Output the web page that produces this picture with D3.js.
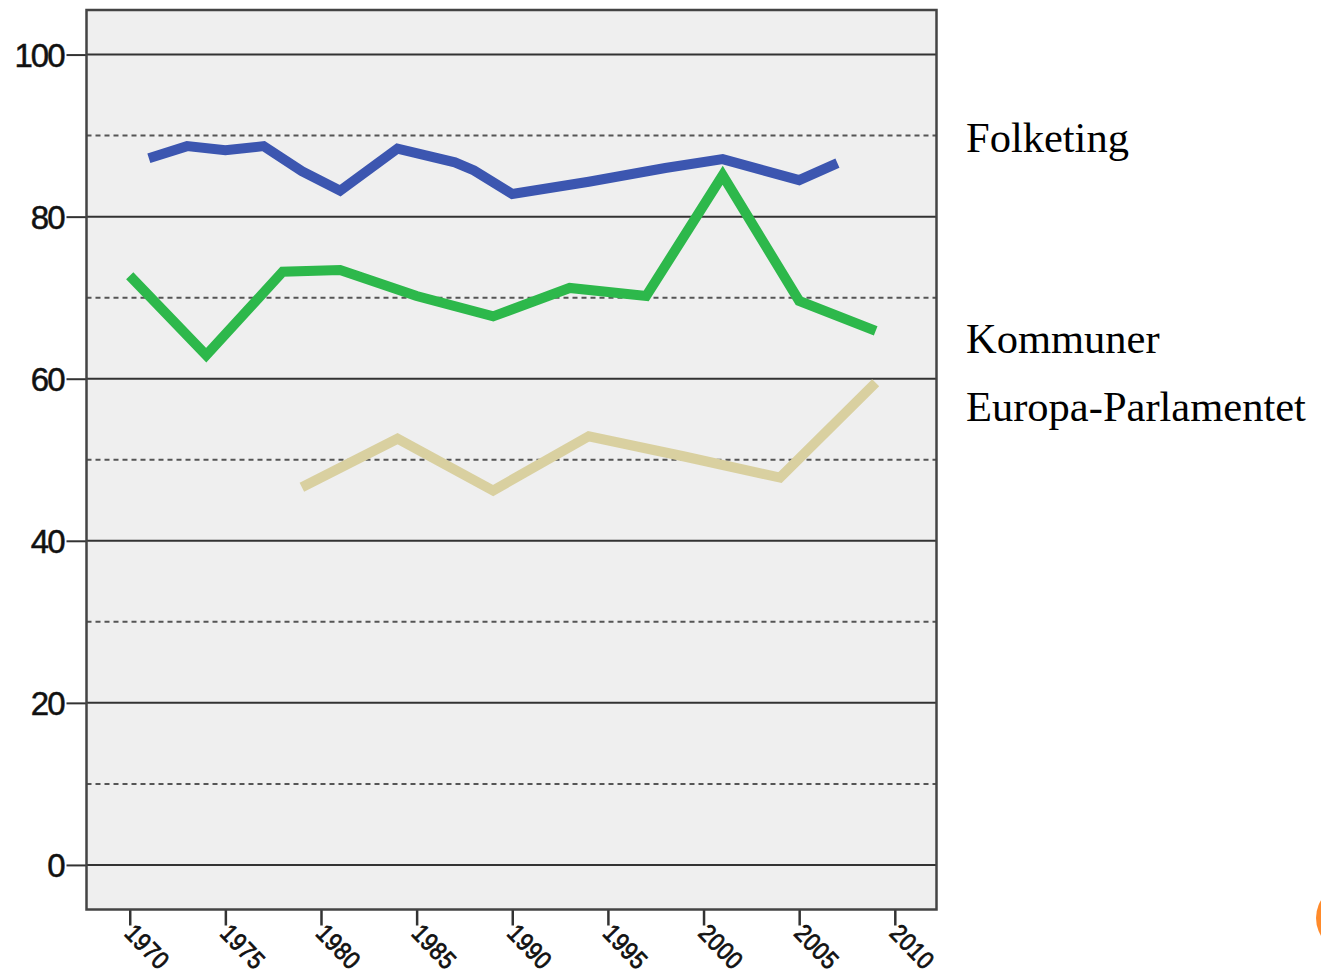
<!DOCTYPE html>
<html><head><meta charset="utf-8">
<script src="https://cdn.jsdelivr.net/npm/d3@7"></script>
<style>body{margin:0;background:#fff}svg{display:block}</style>
</head><body>
<script>
const folketingYears = [1971,1973,1975,1977,1979,1981,1984,1987,1988,1990,1994,1998,2001,2005,2007];
const folketingValues = [87.2,88.7,88.2,88.7,85.6,83.2,88.4,86.7,85.7,82.8,84.3,86.0,87.1,84.5,86.6];
const kommunerYears = [1970,1974,1978,1981,1985,1989,1993,1997,2001,2005,2009];
const kommunerValues = [72.7,62.9,73.2,73.4,70.2,67.7,71.2,70.2,85.1,69.6,65.9];
const epYears = [1979,1984,1989,1994,1999,2004,2009];
const epValues = [46.6,52.6,46.2,52.9,50.4,47.8,59.5];
const seriesNames = ["Folketing","Kommuner","Europa-Parlamentet"];
const xTicks = [1970,1975,1980,1985,1990,1995,2000,2005,2010];
const yTicks = [0,20,40,60,80,100];
const yMinorTicks = [10,30,50,70,90];

const W = 1321, H = 974;
const svg = d3.select("body").append("svg").attr("width", W).attr("height", H);
const L = 86.5, R = 936.5, T = 10, B = 909.5;
const x = d3.scaleLinear().domain([1967.74, 2012.18]).range([L, R]);
const y = d3.scaleLinear().domain([-5.5, 105.5]).range([B, T]);

svg.append("rect").attr("x", L).attr("y", T).attr("width", R - L).attr("height", B - T).attr("fill", "#efefef");

svg.selectAll(".minor").data(yMinorTicks).enter().append("line")
  .attr("x1", L).attr("x2", R).attr("y1", d => y(d)).attr("y2", d => y(d))
  .attr("stroke", "#555").attr("stroke-width", 2).attr("stroke-dasharray", "5,4");

svg.selectAll(".major").data(yTicks).enter().append("line")
  .attr("x1", L).attr("x2", R).attr("y1", d => y(d)).attr("y2", d => y(d))
  .attr("stroke", "#333").attr("stroke-width", 2);

const yAxis = d3.axisLeft(y).tickValues(yTicks).tickSize(20).tickPadding(3);
const yg = svg.append("g").attr("transform", `translate(${L},0)`).call(yAxis);
yg.select(".domain").remove();
yg.selectAll(".tick line").attr("stroke", "#333").attr("stroke-width", 2);
yg.selectAll(".tick text").attr("font-family", "Liberation Sans, Arial, sans-serif")
  .attr("font-size", 33).attr("letter-spacing", "-2").attr("fill", "#111")
  .attr("stroke", "#111").attr("stroke-width", 0.5).attr("dy", "0.36em");

const xAxis = d3.axisBottom(x).tickValues(xTicks).tickSize(16).tickFormat(d3.format("d"));
const xg = svg.append("g").attr("transform", `translate(0,${B})`).call(xAxis);
xg.select(".domain").remove();
xg.selectAll(".tick line").attr("stroke", "#333").attr("stroke-width", 2.5);
xg.selectAll(".tick text").attr("font-family", "Liberation Sans, Arial, sans-serif")
  .attr("font-size", 22).attr("letter-spacing", "0.5").attr("fill", "#111")
  .attr("stroke", "#111").attr("stroke-width", 0.7)
  .attr("text-anchor", "start").attr("y", 0).attr("dy", 0)
  .attr("transform", "translate(-7,25) rotate(46) scale(1,1.15)");

svg.append("rect").attr("x", L).attr("y", T).attr("width", R - L).attr("height", B - T)
  .attr("fill", "none").attr("stroke", "#444").attr("stroke-width", 2.5);

const line = d3.line().x(d => x(d[0])).y(d => y(d[1]));
const series = [
  {yrs: epYears, vals: epValues, color: "#d9d0a0"},
  {yrs: kommunerYears, vals: kommunerValues, color: "#2db84b"},
  {yrs: folketingYears, vals: folketingValues, color: "#3c56b0"}
];
series.forEach(s => {
  svg.append("path").datum(s.yrs.map((yr, i) => [yr, s.vals[i]]))
    .attr("d", line).attr("fill", "none").attr("stroke", s.color)
    .attr("stroke-width", 10).attr("stroke-linejoin", "miter").attr("stroke-miterlimit", 3);
});

const labelY = [152, 353, 421];
svg.selectAll(".lbl").data(seriesNames).enter().append("text")
  .attr("x", 966).attr("y", (d, i) => labelY[i])
  .attr("font-family", "Liberation Serif, Times New Roman, serif").attr("font-size", 42.5)
  .attr("fill", "#000").text(d => d);

svg.append("circle").attr("cx", 1350).attr("cy", 918).attr("r", 34).attr("fill", "#ff8a2a");
</script>
</body></html>
